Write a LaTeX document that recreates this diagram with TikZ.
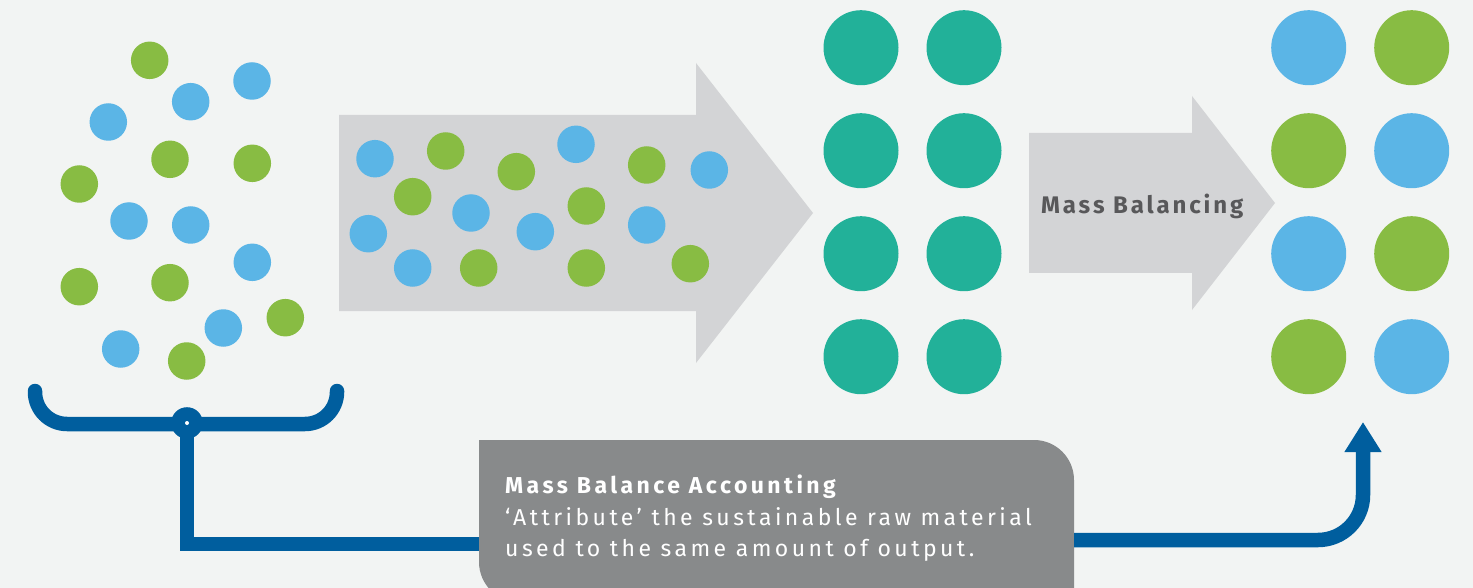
\documentclass[tikz,border=0pt]{standalone}
\usepackage{fontspec}
\setmainfont{Fira Sans}
\newfontfamily\spaced[LetterSpace=12]{Fira Sans}
\newfontfamily\notefont[LetterSpace=15]{Fira Sans}
\usepackage{tikz}
\usetikzlibrary{positioning,arrows.meta}

\definecolor{paper}{HTML}{F2F4F3}
\definecolor{leafgreen}{HTML}{88BC43}
\definecolor{skyblue}{HTML}{5BB5E6}
\definecolor{poolteal}{HTML}{22B199}
\definecolor{arrowgrey}{HTML}{D3D4D6}
\definecolor{flowblue}{HTML}{005E9E}
\definecolor{notegrey}{HTML}{888A8B}
\definecolor{labelgrey}{HTML}{58585A}

\tikzset{
  dot/.style={circle, inner sep=0pt, minimum size=37.5pt},
  gdot/.style={dot, fill=leafgreen},
  bdot/.style={dot, fill=skyblue},
  bigdot/.style={circle, inner sep=0pt, minimum size=75pt},
  flow/.style={draw=flowblue, line width=14.5pt},
}

\begin{document}
\begin{tikzpicture}[x=1pt,y=-1pt,node distance=103pt,on grid]
  \useasboundingbox (0,0) rectangle (1473,588);
  \fill[paper] (0,0) rectangle (1473,588);

  % raw material, mixed
  \node[gdot] (s1) at (149.7,60.3) {};
  \node[bdot] (s2) at (252,81) {};
  \node[bdot] (s3) at (190.7,101.7) {};
  \node[bdot] (s4) at (108.3,122) {};
  \node[gdot] (s5) at (170,159.3) {};
  \node[gdot] (s6) at (252.3,163.3) {};
  \node[gdot] (s7) at (79.3,184) {};
  \node[bdot] (s8) at (129,221) {};
  \node[bdot] (s9) at (190.7,225) {};
  \node[bdot] (s10) at (252.3,262.3) {};
  \node[gdot] (s11) at (79.3,286.7) {};
  \node[gdot] (s12) at (170,282.7) {};
  \node[gdot] (s13) at (285.3,317.7) {};
  \node[bdot] (s14) at (223.3,328) {};
  \node[bdot] (s15) at (120.7,349) {};
  \node[gdot] (s16) at (186.7,361) {};

  % big process arrow with the feed inside
  \fill[arrowgrey] (339,115) -- (696,115) -- (696,63) -- (813,213)
    -- (696,363) -- (696,311) -- (339,311) -- cycle;
  \node[bdot] (m1) at (375,158.7) {};
  \node[gdot] (m2) at (445.7,151) {};
  \node[gdot] (m3) at (516.3,171.7) {};
  \node[bdot] (m4) at (576,144.3) {};
  \node[gdot] (m5) at (646.7,165) {};
  \node[bdot] (m6) at (709.3,170) {};
  \node[gdot] (m7) at (412.7,196.7) {};
  \node[bdot] (m8) at (471,213) {};
  \node[bdot] (m9) at (535.3,231.7) {};
  \node[gdot] (m10) at (586.3,206) {};
  \node[bdot] (m11) at (646.7,225) {};
  \node[bdot] (m12) at (368.3,233.7) {};
  \node[bdot] (m13) at (412.7,268) {};
  \node[gdot] (m14) at (478.7,268) {};
  \node[gdot] (m15) at (586.3,268) {};
  \node[gdot] (m16) at (690.3,263.7) {};

  % output pool
  \node[bigdot, fill=poolteal] (p1) at (861,47.7) {};
  \node[bigdot, fill=poolteal] (p2) [right=of p1] {};
  \node[bigdot, fill=poolteal] (p3) [below=of p1] {};
  \node[bigdot, fill=poolteal] (p4) [right=of p3] {};
  \node[bigdot, fill=poolteal] (p5) [below=of p3] {};
  \node[bigdot, fill=poolteal] (p6) [right=of p5] {};
  \node[bigdot, fill=poolteal] (p7) [below=of p5] {};
  \node[bigdot, fill=poolteal] (p8) [right=of p7] {};

  % mass balancing step
  \fill[arrowgrey] (1029,133) -- (1192,133) -- (1192,96) -- (1275,203)
    -- (1192,310) -- (1192,273) -- (1029,273) -- cycle;
  \node[anchor=base west, inner sep=0pt, text=labelgrey,
        font=\fontsize{24}{28}\selectfont\spaced\bfseries] (balance) at (1041,213.3) {Mass Balancing};

  % balanced output
  \node[bigdot, fill=skyblue] (r1) at (1308.7,47.7) {};
  \node[bigdot, fill=leafgreen] (r2) [right=of r1] {};
  \node[bigdot, fill=leafgreen] (r3) [below=of r1] {};
  \node[bigdot, fill=skyblue] (r4) [right=of r3] {};
  \node[bigdot, fill=skyblue] (r5) [below=of r3] {};
  \node[bigdot, fill=leafgreen] (r6) [right=of r5] {};
  \node[bigdot, fill=leafgreen] (r7) [below=of r5] {};
  \node[bigdot, fill=skyblue] (r8) [right=of r7] {};

  % accounting note
  \fill[notegrey] (479,440) -- (1034,440) arc (270:360:40) -- (1074,602)
    -- (519,602) arc (90:180:40) -- cycle;
  \node[anchor=north west, align=left, inner sep=0pt, text=white,
        font=\fontsize{23}{31.5}\selectfont\notefont] (accttext) at (505,475)
    {\bfseries Mass Balance Accounting\\
     ‘Attribute’ the sustainable raw material\\
     used to the same amount of output.};
  \coordinate (acctin) at (479,544);
  \coordinate (acctout) at (1074,540);

  % bracket under the raw material and the link to the output
  \coordinate (pivot) at (187,423);
  \coordinate (tip) at (1363,422);
  \draw[flow, line cap=round, rounded corners=32pt] (35,391) -- (35,424) -- (337,424) -- (337,391);
  \draw[flow] (pivot) |- (acctin);
  \draw[flow, rounded corners=45pt, -{Triangle[width=35pt,length=30pt]}] (acctout) -| (tip);
  \node[circle, fill=flowblue, inner sep=0pt, minimum size=31.6pt] (hub) at (pivot) {};
  \fill[white] (hub) circle (2pt);
\end{tikzpicture}
\end{document}
